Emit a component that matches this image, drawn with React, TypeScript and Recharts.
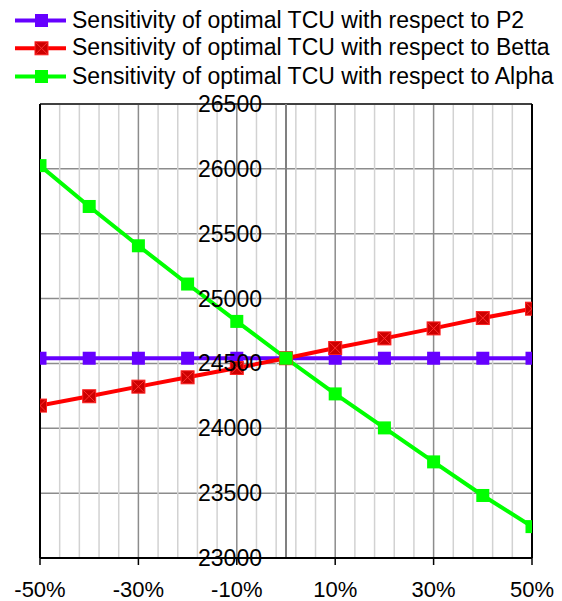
import { CartesianGrid, Legend, Line, LineChart, ReferenceLine, XAxis, YAxis } from "recharts";

// percentage change of each parameter
const changes = [-50, -40, -30, -20, -10, 0, 10, 20, 30, 40, 50];

// optimal TCU
const tcuP2 = [24540, 24540, 24540, 24540, 24540, 24540, 24540, 24540, 24540, 24540, 24540];
const tcuBetta = [24175, 24247, 24321, 24393, 24465, 24540, 24619, 24693, 24770, 24850, 24922];
const tcuAlpha = [26025, 25710, 25407, 25112, 24824, 24540, 24265, 24003, 23741, 23482, 23242];

const seriesNames = [
  "Sensitivity of optimal TCU with respect to P2",
  "Sensitivity of optimal TCU with respect to Betta",
  "Sensitivity of optimal TCU with respect to Alpha",
];

const xTicks = [-0.5, -0.3, -0.1, 0.1, 0.3, 0.5];
const xMajorGrid = [-0.3, -0.1, 0.1, 0.3];
const xMinorGrid = [
  -0.46, -0.42, -0.38, -0.34, -0.26, -0.22, -0.18, -0.14, -0.06, -0.02,
  0.02, 0.06, 0.14, 0.18, 0.22, 0.26, 0.34, 0.38, 0.42, 0.46,
];
const yTicks = [23000, 23500, 24000, 24500, 25000, 25500, 26000, 26500];

const data = changes.map((c, i) => ({
  x: c / 100,
  p2: tcuP2[i],
  betta: tcuBetta[i],
  alpha: tcuAlpha[i],
}));

const FONT = "'Liberation Sans', Arial, sans-serif";
const W = 562;
const H = 601;
const M_LEFT = 40;
const M_RIGHT = 30;
const M_TOP = 104;
const X_AXIS_H = 43;
const X_DOMAIN: [number, number] = [-0.5, 0.5];
const Y_DOMAIN: [number, number] = [23000, 26500];
const PLOT_W = W - M_LEFT - M_RIGHT;
// vertical axis crosses at 0%
const AXIS_X = M_LEFT + (PLOT_W * (0 - X_DOMAIN[0])) / (X_DOMAIN[1] - X_DOMAIN[0]);

const PURPLE = "#6600ff";
const RED = "#ff0000";
const GREEN = "#00ff00";
const MS = 13;

function SquareDot({ cx, cy, fill }: any) {
  if (cx == null || cy == null) return null;
  return <rect x={cx - MS / 2} y={cy - MS / 2} width={MS} height={MS} fill={fill} />;
}

function CrossDot({ cx, cy }: any) {
  if (cx == null || cy == null) return null;
  const h = MS / 2;
  return (
    <g>
      <rect x={cx - h} y={cy - h} width={MS} height={MS} fill="#cc0000" stroke="#ff2020" strokeWidth={1} />
      <line x1={cx - h + 1} y1={cy - h + 1} x2={cx + h - 1} y2={cy + h - 1} stroke="#ff3030" strokeWidth={1} />
      <line x1={cx - h + 1} y1={cy + h - 1} x2={cx + h - 1} y2={cy - h + 1} stroke="#ff3030" strokeWidth={1} />
    </g>
  );
}

function renderYTick(props: any) {
  const { y, payload } = props;
  return (
    <text
      key={payload.value}
      x={AXIS_X - 24}
      y={y}
      textAnchor="end"
      dominantBaseline="central"
      fill="#000"
      fontSize={23}
      fontFamily={FONT}
    >
      {payload.value}
    </text>
  );
}

function LegendBox() {
  const colors = [PURPLE, RED, GREEN];
  const rowsY = [20.5, 48.3, 76.5];
  return (
    <svg width={W} height={92}>
      {seriesNames.map((name, i) => {
        const cy = rowsY[i];
        return (
          <g key={name}>
            <line x1={15} y1={cy} x2={66} y2={cy} stroke={colors[i]} strokeWidth={4} />
            {i === 1 ? (
              <CrossDot cx={41.5} cy={cy} />
            ) : (
              <SquareDot cx={41.5} cy={cy} fill={colors[i]} />
            )}
            <text x={72} y={cy - 1} dominantBaseline="central" fontSize={23} fontFamily={FONT} fill="#000">
              {name}
            </text>
          </g>
        );
      })}
    </svg>
  );
}

export default function App() {
  return (
    <div style={{ position: "absolute", left: 0, top: 0, width: W, height: H, background: "#fff" }}>
      <LineChart width={W} height={H} data={data} margin={{ top: M_TOP, left: M_LEFT - 1, right: M_RIGHT, bottom: 0 }}>
        <CartesianGrid vertical={false} stroke="#8c8c8c" strokeWidth={1.5} />
        {xMinorGrid.map((v) => (
          <ReferenceLine key={"mi" + v} x={v} stroke="#d2d2d2" strokeWidth={1.5} />
        ))}
        {xMajorGrid.map((v) => (
          <ReferenceLine key={"ma" + v} x={v} stroke="#8c8c8c" strokeWidth={1.5} />
        ))}
        <ReferenceLine
          segment={[{ x: X_DOMAIN[0], y: Y_DOMAIN[1] }, { x: X_DOMAIN[1], y: Y_DOMAIN[1] }]}
          stroke="#404040"
          strokeWidth={2}
          ifOverflow="visible"
        />
        <ReferenceLine x={-0.5} stroke="#000" strokeWidth={2} />
        <ReferenceLine x={0.5} stroke="#000" strokeWidth={2} />
        <ReferenceLine x={0} stroke="#808080" strokeWidth={2} />
        <XAxis
          type="number"
          dataKey="x"
          domain={X_DOMAIN}
          ticks={xTicks}
          height={X_AXIS_H}
          tickFormatter={(v) => `${Math.round(v * 100)}%`}
          axisLine={{ stroke: "#000", strokeWidth: 2 }}
          tickLine={{ stroke: "#000", strokeWidth: 1.5 }}
          tickSize={7}
          tickMargin={16}
          tick={{ fill: "#000", fontSize: 22, fontFamily: FONT }}
          allowDataOverflow
        />
        <YAxis
          type="number"
          domain={Y_DOMAIN}
          ticks={yTicks}
          width={1}
          interval={0}
          axisLine={false}
          tickLine={false}
          tick={renderYTick}
          allowDataOverflow
        />
        <Legend
          layout="vertical"
          align="center"
          verticalAlign="middle"
          wrapperStyle={{ position: "absolute", top: 0, left: 0, width: W, height: 92 }}
          content={() => <LegendBox />}
        />
        <Line
          dataKey="p2"
          name={seriesNames[0]}
          stroke={PURPLE}
          strokeWidth={4}
          dot={<SquareDot fill={PURPLE} />}
          isAnimationActive={false}
        />
        <Line
          dataKey="betta"
          name={seriesNames[1]}
          stroke={RED}
          strokeWidth={4}
          dot={<CrossDot />}
          isAnimationActive={false}
        />
        <Line
          dataKey="alpha"
          name={seriesNames[2]}
          stroke={GREEN}
          strokeWidth={4}
          dot={<SquareDot fill={GREEN} />}
          isAnimationActive={false}
        />
      </LineChart>
    </div>
  );
}
